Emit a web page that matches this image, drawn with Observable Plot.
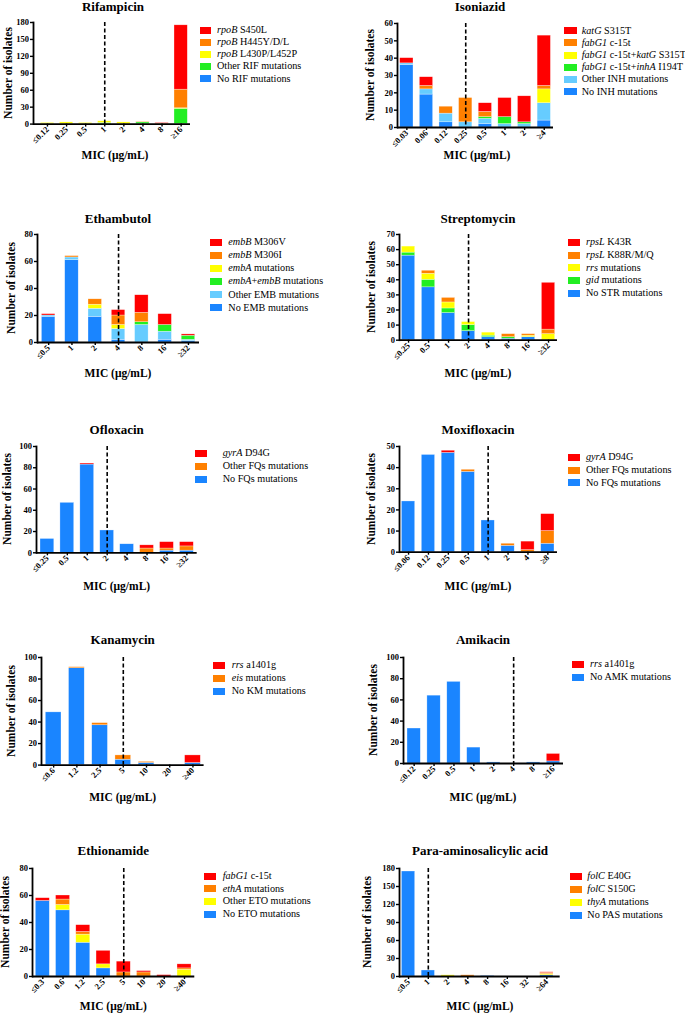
<!DOCTYPE html>
<html><head><meta charset="utf-8">
<script src="https://cdn.jsdelivr.net/npm/d3@7"></script>
<script src="https://cdn.jsdelivr.net/npm/@observablehq/plot@0.6"></script>
<style>
body{margin:0;background:#fff;}
#root{position:relative;width:685px;height:1017px;overflow:hidden;font-family:"Liberation Serif","Times New Roman",serif;color:#000;}
.abs{position:absolute;white-space:nowrap;}
#root svg{position:absolute;overflow:visible;}
</style></head><body><div id="root"></div>
<script>
const RED="#ff0000", ORANGE="#ff8000", YELLOW="#ffff00", GREEN="#22ee22", LBLUE="#66ccff", BLUE="#1a85ff";

// ---- Rifampicin
const rifCats = ["≤0.12","0.25","0.5","1","2","4","8","≥16"];
const rifSeries = ["rpoB S450L","rpoB H445Y/D/L","rpoB L430P/L452P","Other RIF mutations","No RIF mutations"];
const rifColors = [RED, ORANGE, YELLOW, GREEN, BLUE];
const rifValues = [
  [0,0,0,0,0,0,1,114],
  [0,0,0,0,0,1,1,33],
  [2,3,2,3,3,0,0,1],
  [0,0,0,2,0,3,0,27],
  [0,0,0,0,0,0,0,0]
];
const rifTicks = [0,30,60,90,120,150,180];
const rifBreak = "1";

// ---- Isoniazid
const inhCats = ["≤0.03","0.06","0.12","0.25","0.5","1","2","≥4"];
const inhSeries = ["katG S315T","fabG1 c-15t","fabG1 c-15t+katG S315T","fabG1 c-15t+inhA I194T","Other INH mutations","No INH mutations"];
const inhColors = [RED, ORANGE, YELLOW, GREEN, LBLUE, BLUE];
const inhValues = [
  [3,5,0,0,5,11,15,29],
  [0,2,4,14,3,0,0,2],
  [0,0,0,0,0,0,0,8],
  [0,0,0,0,1,4,1,0],
  [1,3,5,3,3,2,2,10],
  [36,19,3,0,2,0,0,4]
];
const inhTicks = [0,10,20,30,40,50,60];
const inhBreak = "0.25";

// ---- Ethambutol
const embCats = ["≤0.5","1","2","4","8","16","≥32"];
const embSeries = ["embB M306V","embB M306I","embA mutations","embA+embB mutations","Other EMB mutations","No EMB mutations"];
const embColors = [RED, ORANGE, YELLOW, GREEN, LBLUE, BLUE];
const embValues = [
  [1,0,0,4,13,8,1],
  [0,1,4,7,7,0,0],
  [0,0,3,3,0,0,0],
  [0,0,0,0,2,5,3],
  [1,2,6,8,13,6,1],
  [19,61,19,2,0,2,1]
];
const embTicks = [0,20,40,60,80];
const embBreak = "4";

// ---- Streptomycin
const strCats = ["≤0.25","0.5","1","2","4","8","16","≥32"];
const strSeries = ["rpsL K43R","rpsL K88R/M/Q","rrs mutations","gid mutations","No STR mutations"];
const strColors = [RED, ORANGE, YELLOW, GREEN, BLUE];
const strValues = [
  [0,0,0,0,0,0,0,31],
  [0,2,3,0,0,2,1,3],
  [4,4,4,2,2,0,1,4],
  [2,5,3,4,1,1,0,0],
  [56,35,18,6,2,1,2,0]
];
const strTicks = [0,10,20,30,40,50,60,70];
const strBreak = "2";

// ---- Ofloxacin
const oflCats = ["≤0.25","0.5","1","2","4","8","16","≥32"];
const oflSeries = ["gyrA D94G","Other FQs mutations","No FQs mutations"];
const oflColors = [RED, ORANGE, BLUE];
const oflValues = [
  [0,0,1,0,0,3,6,4],
  [0,0,0,0,0,4,2,4],
  [13,47,83,21,8,0,2,2]
];
const oflTicks = [0,20,40,60,80,100];
const oflBreak = "2";

// ---- Moxifloxacin
const mfxCats = ["≤0.06","0.12","0.25","0.5","1","2","4","≥8"];
const mfxSeries = ["gyrA D94G","Other FQs mutations","No FQs mutations"];
const mfxColors = [RED, ORANGE, BLUE];
const mfxValues = [
  [0,0,1,0,0,0,4,8],
  [0,0,0,1,0,1,1,6],
  [24,46,47,38,15,3,0,4]
];
const mfxTicks = [0,10,20,30,40,50];
const mfxBreak = "1";

// ---- Kanamycin
const kmCats = ["≤0.6","1.2","2.5","5","10","20","≥40"];
const kmSeries = ["rrs a1401g","eis mutations","No KM mutations"];
const kmColors = [RED, ORANGE, BLUE];
const kmValues = [
  [0,0,0,0,0,0,7],
  [0,1,2,4,1,0,0],
  [49,90,37,5,2,0,2]
];
const kmTicks = [0,20,40,60,80,100];
const kmBreak = "5";

// ---- Amikacin
const amkCats = ["≤0.12","0.25","0.5","1","2","4","8","≥16"];
const amkSeries = ["rrs a1401g","No AMK mutations"];
const amkColors = [RED, BLUE];
const amkValues = [
  [0,0,0,0,0,0,0,7],
  [33,64,77,15,1,0,1,2]
];
const amkTicks = [0,20,40,60,80,100];
const amkBreak = "4";

// ---- Ethionamide
const etoCats = ["≤0.3","0.6","1.2","2.5","5","10","20","≥40"];
const etoSeries = ["fabG1 c-15t","ethA mutations","Other ETO mutations","No ETO mutations"];
const etoColors = [RED, ORANGE, YELLOW, BLUE];
const etoValues = [
  [2,3,5,10,8,1,1,3],
  [0,4,2,0,3,3,0,1],
  [0,4,6,3,0,0,0,5],
  [56,49,25,6,0,0,0,0]
];
const etoTicks = [0,20,40,60,80];
const etoBreak = "5";

// ---- Para-aminosalicylic acid
const pasCats = ["≤0.5","1","2","4","8","16","32","≥64"];
const pasSeries = ["folC E40G","folC S150G","thyA mutations","No PAS mutations"];
const pasColors = [RED, ORANGE, YELLOW, BLUE];
const pasValues = [
  [0,0,0,0,0,0,0,1],
  [0,0,0,2,0,0,0,2],
  [0,0,2,0,0,0,0,2],
  [175,10,0,0,1,0,0,2]
];
const pasTicks = [0,30,60,90,120,150,180];
const pasBreak = "1";

const genes = ["rpoB","katG","fabG1","inhA","embB","embA","rpsL","rrs","gid","gyrA","eis","ethA","folC","thyA"];

const panels = [
  {title:"Rifampicin", cats:rifCats, series:rifSeries, colors:rifColors, values:rifValues, ticks:rifTicks, brk:rifBreak,
   g:{axisX:33, yTop:21.7, y0:123.3, axisEnd:190, b0:40.3, b1:187.3, bw:13.3, titleX:113, titleBase:11.2, xTitleX:115, xTitleBase:160, yTitleX:9, sw:200, swW:11, tx:217, rowY:30, rowDy:12.2}},
  {title:"Isoniazid", cats:inhCats, series:inhSeries, colors:inhColors, values:inhValues, ticks:inhTicks, brk:inhBreak,
   g:{axisX:397.3, yTop:22.7, y0:126.7, axisEnd:553.3, b0:400, b1:550.7, bw:13.3, titleX:480, titleBase:11.2, xTitleX:477, xTitleBase:160, yTitleX:371.3, sw:564, swW:13, tx:581.7, rowY:30.7, rowDy:12.2}},
  {title:"Ethambutol", cats:embCats, series:embSeries, colors:embColors, values:embValues, ticks:embTicks, brk:embBreak,
   g:{axisX:37.3, yTop:234.3, y0:342.3, axisEnd:199.3, b0:41.7, b1:195, bw:13.5, titleX:118, titleBase:222.5, xTitleX:118, xTitleBase:378, yTitleX:12, sw:210, swW:12, tx:228.3, rowY:242.3, rowDy:13.1}},
  {title:"Streptomycin", cats:strCats, series:strSeries, colors:strColors, values:strValues, ticks:strTicks, brk:strBreak,
   g:{axisX:399.3, yTop:234.3, y0:340, axisEnd:557.3, b0:401.7, b1:555, bw:13.3, titleX:478, titleBase:222.5, xTitleX:478, xTitleBase:378, yTitleX:372, sw:568.3, swW:12, tx:586, rowY:242.3, rowDy:12.75}},
  {title:"Ofloxacin", cats:oflCats, series:oflSeries, colors:oflColors, values:oflValues, ticks:oflTicks, brk:oflBreak,
   g:{axisX:36, yTop:446, y0:552.3, axisEnd:196.7, b0:40, b1:193.3, bw:13.8, titleX:116.7, titleBase:433.5, xTitleX:116.7, xTitleBase:591, yTitleX:8, sw:195, swW:12, tx:222.7, rowY:453.3, rowDy:13}},
  {title:"Moxifloxacin", cats:mfxCats, series:mfxSeries, colors:mfxColors, values:mfxValues, ticks:mfxTicks, brk:mfxBreak,
   g:{axisX:399.3, yTop:446, y0:551.7, axisEnd:557.3, b0:401.7, b1:554.3, bw:13.3, titleX:478, titleBase:433.5, xTitleX:478, xTitleBase:591, yTitleX:372, sw:568.3, swW:12, tx:586, rowY:457.3, rowDy:12.7}},
  {title:"Kanamycin", cats:kmCats, series:kmSeries, colors:kmColors, values:kmValues, ticks:kmTicks, brk:kmBreak,
   g:{axisX:40.7, yTop:656.7, y0:764.3, axisEnd:203.3, b0:45, b1:200, bw:15.7, titleX:122.7, titleBase:643.6, xTitleX:122.7, xTitleBase:802, yTitleX:12, sw:213.3, swW:12, tx:231.7, rowY:665, rowDy:13}},
  {title:"Amikacin", cats:amkCats, series:amkSeries, colors:amkColors, values:amkValues, ticks:amkTicks, brk:amkBreak,
   g:{axisX:402.7, yTop:656.7, y0:762.7, axisEnd:562.7, b0:406.7, b1:559.3, bw:13.3, titleX:483, titleBase:643.6, xTitleX:483, xTitleBase:802, yTitleX:373.8, sw:572.3, swW:12, tx:590, rowY:664, rowDy:13.3}},
  {title:"Ethionamide", cats:etoCats, series:etoSeries, colors:etoColors, values:etoValues, ticks:etoTicks, brk:etoBreak,
   g:{axisX:31.7, yTop:867.7, y0:975.7, axisEnd:194, b0:35, b1:190.7, bw:14, titleX:113.3, titleBase:855.3, xTitleX:113.3, xTitleBase:1011, yTitleX:6.2, sw:204, swW:12, tx:222.7, rowY:876, rowDy:12.7}},
  {title:"Para-aminosalicylic acid", cats:pasCats, series:pasSeries, colors:pasColors, values:pasValues, ticks:pasTicks, brk:pasBreak,
   g:{axisX:399.3, yTop:867.7, y0:975.7, axisEnd:560, b0:401.7, b1:553.3, bw:13.3, titleX:480, titleBase:855.3, xTitleX:480, xTitleBase:1011, yTitleX:368, sw:570, swW:12, tx:587.3, rowY:876, rowDy:13}}
];

const root = document.getElementById("root");
function addDiv(html, css) {
  const d = document.createElement("div");
  d.className = "abs";
  d.innerHTML = html;
  Object.assign(d.style, css);
  root.appendChild(d);
  return d;
}
function textAt(html, x, base, fs, weight, anchor) {
  const d = addDiv(html, {left: x + "px", top: Math.max(0, base - 0.84 * fs) + "px", fontSize: fs + "px", lineHeight: fs + "px", fontWeight: weight});
  if (anchor === "middle") d.style.transform = "translateX(-50%)";
  return d;
}
const geneRe = new RegExp("\\b(" + genes.join("|") + ")\\b", "g");
const italicize = s => s.replace(geneRe, "<i>$1</i>");

for (const p of panels) {
  const g = p.g;
  const ML = 30, MR = 4, MT = 4, MB = 34;
  const left = g.axisX - ML, top = g.yTop - MT;
  const width = ML + (g.axisEnd - g.axisX) + MR;
  const height = MT + (g.y0 - g.yTop) + MB;
  const n = p.cats.length;
  const pitch = (g.b1 - g.b0 - g.bw) / (n - 1);
  const pad = 1 - g.bw / pitch;
  const rows = [];
  for (let s = p.series.length - 1; s >= 0; s--) {
    p.cats.forEach((c, i) => { if (p.values[s][i] > 0) rows.push({cat: c, series: p.series[s], value: p.values[s][i]}); });
  }
  const chart = Plot.plot({
    width, height, marginLeft: ML, marginRight: MR, marginTop: MT, marginBottom: MB,
    style: {fontFamily: "Liberation Serif, serif", fontSize: "8.5px", fontWeight: "bold", background: "transparent", overflow: "visible", color: "#000"},
    x: {type: "band", domain: p.cats, range: [g.b0 - left, g.b1 - left], paddingInner: pad, paddingOuter: 0, align: 0.5, round: false},
    y: {domain: [0, p.ticks[p.ticks.length - 1]]},
    color: {domain: p.series, range: p.colors},
    marks: [
      Plot.barY(rows, {x: "cat", y: "value", fill: "series", stroke: "#fff", strokeWidth: 0.5, strokeOpacity: 0.6}),
      Plot.ruleX([p.brk], {stroke: "#000", strokeWidth: 1.6, strokeDasharray: "4,2.5"}),
      Plot.ruleY([0], {stroke: "#000", strokeWidth: 1.8}),
      Plot.frame({anchor: "left", stroke: "#000", strokeWidth: 1.8}),
      Plot.axisY({ticks: p.ticks, tickSize: 3, tickPadding: 1.5, label: null, strokeWidth: 1.4}),
      Plot.axisX({tickRotate: -45, tickSize: 3, tickPadding: 1, label: null, strokeWidth: 1.4})
    ]
  });
  chart.style.left = left + "px";
  chart.style.top = top + "px";
  root.appendChild(chart);

  textAt(p.title, g.titleX, g.titleBase, 13, "bold", "middle");
  textAt("MIC (μg/mL)", g.xTitleX, g.xTitleBase, 11.5, "bold", "middle");
  addDiv("Number of isolates", {left: g.yTitleX + "px", top: ((g.yTop + g.y0) / 2) + "px", fontSize: "11.5px", lineHeight: "11.5px", fontWeight: "bold", transform: "translate(-50%,-50%) rotate(-90deg)"});

  p.series.forEach((s, i) => {
    const cy = g.rowY + i * g.rowDy;
    addDiv("", {left: g.sw + "px", top: (cy - 3.5) + "px", width: g.swW + "px", height: "7px", background: p.colors[i]});
    textAt(italicize(s), g.tx, cy + 3.4, 10.2, "normal");
  });
}
</script></body></html>
